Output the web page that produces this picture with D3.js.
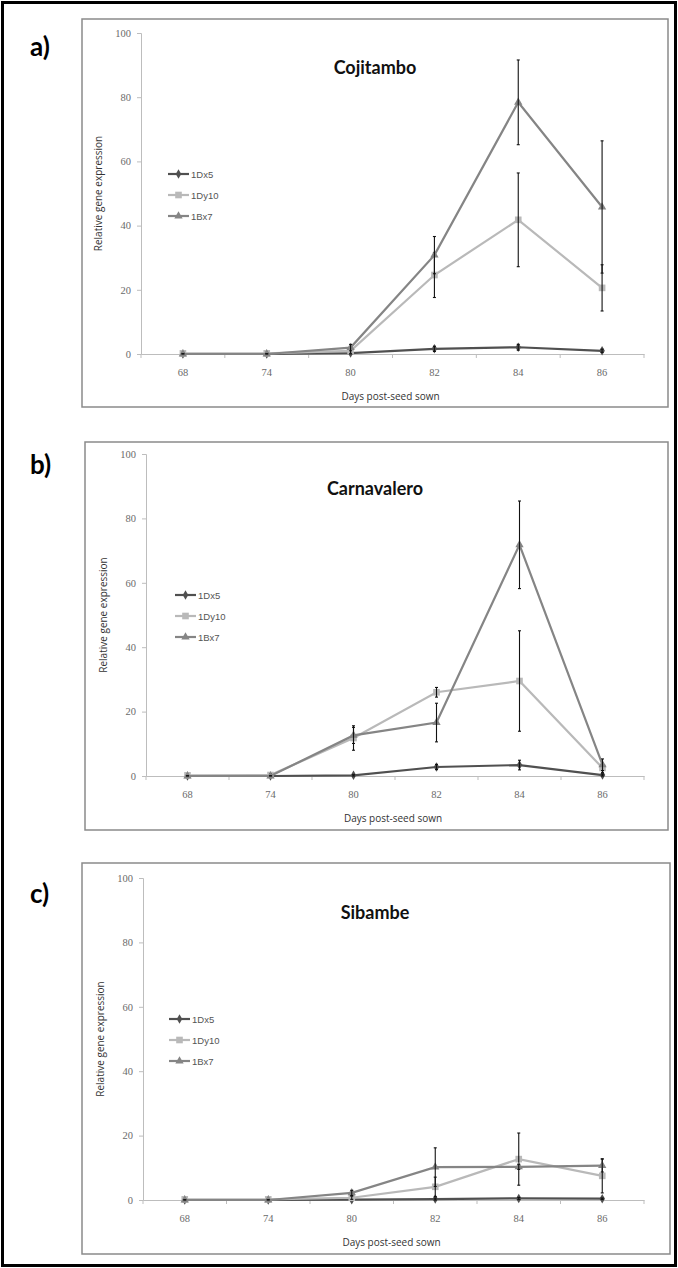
<!DOCTYPE html>
<html>
<head>
<meta charset="utf-8">
<script src="https://cdn.jsdelivr.net/npm/d3@7"></script>
<style>
  body { margin: 0; background: #fff; }
  svg { display: block; }
</style>
</head>
<body>
<div id="chart"></div>
<script>
const days = ['68', '74', '80', '82', '84', '86']
const yTicks = [0, 20, 40, 60, 80, 100]
const seriesNames = ['1Dx5', '1Dy10', '1Bx7']
const panelLetters = ['a)', 'b)', 'c)']
const panelTitles = ['Cojitambo', 'Carnavalero', 'Sibambe']

// a) Cojitambo
const cojDx5 = [0, 0, 0.3, 1.6, 2.1, 1.0]
const cojDx5Err = [0.2, 0.2, 0.3, 0.8, 0.9, 0.5]
const cojDy10 = [0.2, 0.2, 1.0, 24.6, 41.8, 20.6]
const cojDy10Err = [0.3, 0.3, 0.8, 7.0, 14.6, 7.2]
const cojBx7 = [0, 0, 2.0, 30.8, 78.4, 45.8]
const cojBx7Err = [0.1, 0.1, 1.0, 5.8, 13.2, 20.6]

// b) Carnavalero
const carDx5 = [0, 0, 0.2, 2.8, 3.4, 0.3]
const carDx5Err = [0.1, 0.1, 0.2, 0.8, 1.5, 0.3]
const carDy10 = [0.2, 0.3, 11.8, 26.0, 29.5, 2.5]
const carDy10Err = [0.3, 0.4, 3.8, 1.5, 15.6, 1.5]
const carBx7 = [0, 0, 12.6, 16.6, 71.8, 3.5]
const carBx7Err = [0.1, 0.1, 2.5, 6.0, 13.6, 1.8]

// c) Sibambe
const sibDx5 = [0, 0, 0.1, 0.3, 0.5, 0.4]
const sibDx5Err = [0.1, 0.1, 0.1, 0.3, 0.3, 0.2]
const sibDy10 = [0.2, 0.2, 0.7, 4.1, 12.7, 7.5]
const sibDy10Err = [0.3, 0.3, 0.5, 3.0, 8.1, 5.3]
const sibBx7 = [0, 0, 2.2, 10.2, 10.3, 10.7]
const sibBx7Err = [0.1, 0.1, 0.8, 6.0, 0.8, 2.0]

const panelValues = [
  [cojDx5, cojDy10, cojBx7],
  [carDx5, carDy10, carBx7],
  [sibDx5, sibDy10, sibBx7]
]
const panelErrors = [
  [cojDx5Err, cojDy10Err, cojBx7Err],
  [carDx5Err, carDy10Err, carBx7Err],
  [sibDx5Err, sibDy10Err, sibBx7Err]
]

// layout of each panel on the page
const layouts = [
  { box: [82, 19, 668, 407], x0: 141, x1: 644, y0: 354, y100: 33, letterY: 56, legendX: 168 },
  { box: [85, 442, 668, 830], x0: 146, x1: 644, y0: 776, y100: 454, letterY: 474, legendX: 175 },
  { box: [82, 863, 670, 1254], x0: 143, x1: 644, y0: 1200, y100: 878, letterY: 903, legendX: 169 }
]

const colors = ['#505050', '#b9b9b9', '#858585']
const symbols = [d3.symbolDiamond, d3.symbolSquare, d3.symbolTriangle]
const symbolSizes = [26, 44, 30]

const width = 678
const height = 1268

const svg = d3.select('#chart')
  .append('svg')
  .attr('width', width)
  .attr('height', height)

svg.append('rect')
  .attr('x', 2.5)
  .attr('y', 2.5)
  .attr('width', width - 5)
  .attr('height', height - 5)
  .attr('fill', 'none')
  .attr('stroke', '#000')
  .attr('stroke-width', 3)

function drawPanel (i) {
  const L = layouts[i]
  const g = svg.append('g')

  g.append('rect')
    .attr('x', L.box[0])
    .attr('y', L.box[1])
    .attr('width', L.box[2] - L.box[0])
    .attr('height', L.box[3] - L.box[1])
    .attr('fill', '#fff')
    .attr('stroke', '#8a8a8a')
    .attr('stroke-width', 1.5)

  g.append('text')
    .attr('x', 30)
    .attr('y', L.letterY)
    .style('font-family', 'Lato, sans-serif')
    .style('font-weight', 'bold')
    .style('font-size', '26px')
    .attr('fill', '#000')
    .text(panelLetters[i])

  const xb = d3.scaleBand().domain(days).range([L.x0, L.x1]).padding(0)
  const x = d => xb(d) + xb.bandwidth() / 2
  const y = d3.scaleLinear().domain([0, 100]).range([L.y0, L.y100])

  // y axis
  const yAxis = g.append('g')
    .attr('transform', `translate(${L.x0},0)`)
    .call(d3.axisLeft(y).tickValues(yTicks).tickSize(4).tickPadding(6))
  yAxis.select('.domain').attr('stroke', '#bdbdbd')
  yAxis.selectAll('.tick line').attr('stroke', '#bdbdbd')
  yAxis.selectAll('.tick text')
    .style('font-family', '"Liberation Serif", serif')
    .style('font-size', '10.5px')
    .attr('fill', '#6a6a6a')

  // x axis
  const xAxis = g.append('g')
    .attr('transform', `translate(0,${L.y0})`)
    .call(d3.axisBottom(xb).tickSize(0).tickPadding(15))
  xAxis.select('.domain').attr('stroke', '#bdbdbd')
  xAxis.selectAll('.tick text')
    .style('font-family', '"Liberation Serif", serif')
    .style('font-size', '10.5px')
    .attr('fill', '#6a6a6a')
  const bounds = days.map(d => xb(d)).concat([L.x1])
  xAxis.selectAll('.bound')
    .data(bounds)
    .enter()
    .append('line')
    .attr('class', 'bound')
    .attr('x1', d => d)
    .attr('x2', d => d)
    .attr('y1', 0)
    .attr('y2', 4)
    .attr('stroke', '#bdbdbd')

  g.append('text')
    .attr('x', (L.x0 + L.x1) / 2 - 2)
    .attr('y', L.y0 + 46)
    .attr('text-anchor', 'middle')
    .style('font-family', '"Open Sans", sans-serif')
    .style('font-size', '10px')
    .attr('fill', '#333')
    .text('Days post-seed sown')

  g.append('text')
    .attr('transform', `translate(${L.x0 - 39},${(L.y0 + L.y100) / 2}) rotate(-90)`)
    .attr('text-anchor', 'middle')
    .style('font-family', '"Open Sans", sans-serif')
    .style('font-size', '10px')
    .attr('fill', '#333')
    .text('Relative gene expression')

  g.append('text')
    .attr('x', 375)
    .attr('y', L.y100 + 41)
    .attr('text-anchor', 'middle')
    .style('font-family', 'Lato, sans-serif')
    .style('font-weight', 'bold')
    .style('font-size', '18px')
    .attr('fill', '#111')
    .text(panelTitles[i])

  // series
  const line = d3.line().x(d => x(d.day)).y(d => y(d.v))
  seriesNames.forEach((name, s) => {
    const pts = days.map((d, k) => ({ day: d, v: panelValues[i][s][k], e: panelErrors[i][s][k] }))
    const sg = g.append('g')
    sg.append('path')
      .datum(pts)
      .attr('d', line)
      .attr('fill', 'none')
      .attr('stroke', colors[s])
      .attr('stroke-width', 2.2)
    sg.selectAll('.marker')
      .data(pts)
      .enter()
      .append('path')
      .attr('class', 'marker')
      .attr('transform', d => `translate(${x(d.day)},${y(d.v)})`)
      .attr('d', d3.symbol().type(symbols[s]).size(symbolSizes[s]))
      .attr('fill', colors[s])
    const eb = sg.selectAll('.err')
      .data(pts)
      .enter()
      .append('g')
      .attr('class', 'err')
      .attr('stroke', '#111')
      .attr('stroke-width', 1.1)
    eb.append('line')
      .attr('x1', d => x(d.day))
      .attr('x2', d => x(d.day))
      .attr('y1', d => y(d.v + d.e))
      .attr('y2', d => y(Math.max(0, d.v - d.e)))
    eb.append('line')
      .attr('x1', d => x(d.day) - 1.5)
      .attr('x2', d => x(d.day) + 1.5)
      .attr('y1', d => y(d.v + d.e))
      .attr('y2', d => y(d.v + d.e))
    eb.append('line')
      .attr('x1', d => x(d.day) - 1.5)
      .attr('x2', d => x(d.day) + 1.5)
      .attr('y1', d => y(Math.max(0, d.v - d.e)))
      .attr('y2', d => y(Math.max(0, d.v - d.e)))
  })

  // legend
  const lg = g.append('g')
  seriesNames.forEach((name, s) => {
    const ly = L.y100 + 141 + s * 21
    lg.append('line')
      .attr('x1', L.legendX)
      .attr('x2', L.legendX + 21)
      .attr('y1', ly)
      .attr('y2', ly)
      .attr('stroke', colors[s])
      .attr('stroke-width', 2.2)
    lg.append('path')
      .attr('transform', `translate(${L.legendX + 10.5},${ly})`)
      .attr('d', d3.symbol().type(symbols[s]).size(symbolSizes[s]))
      .attr('fill', colors[s])
    lg.append('text')
      .attr('x', L.legendX + 23)
      .attr('y', ly + 3.5)
      .style('font-family', '"Liberation Sans", sans-serif')
      .style('font-size', '9.5px')
      .attr('fill', '#555')
      .text(name)
  })
}

d3.range(3).forEach(drawPanel)
</script>
</body>
</html>
